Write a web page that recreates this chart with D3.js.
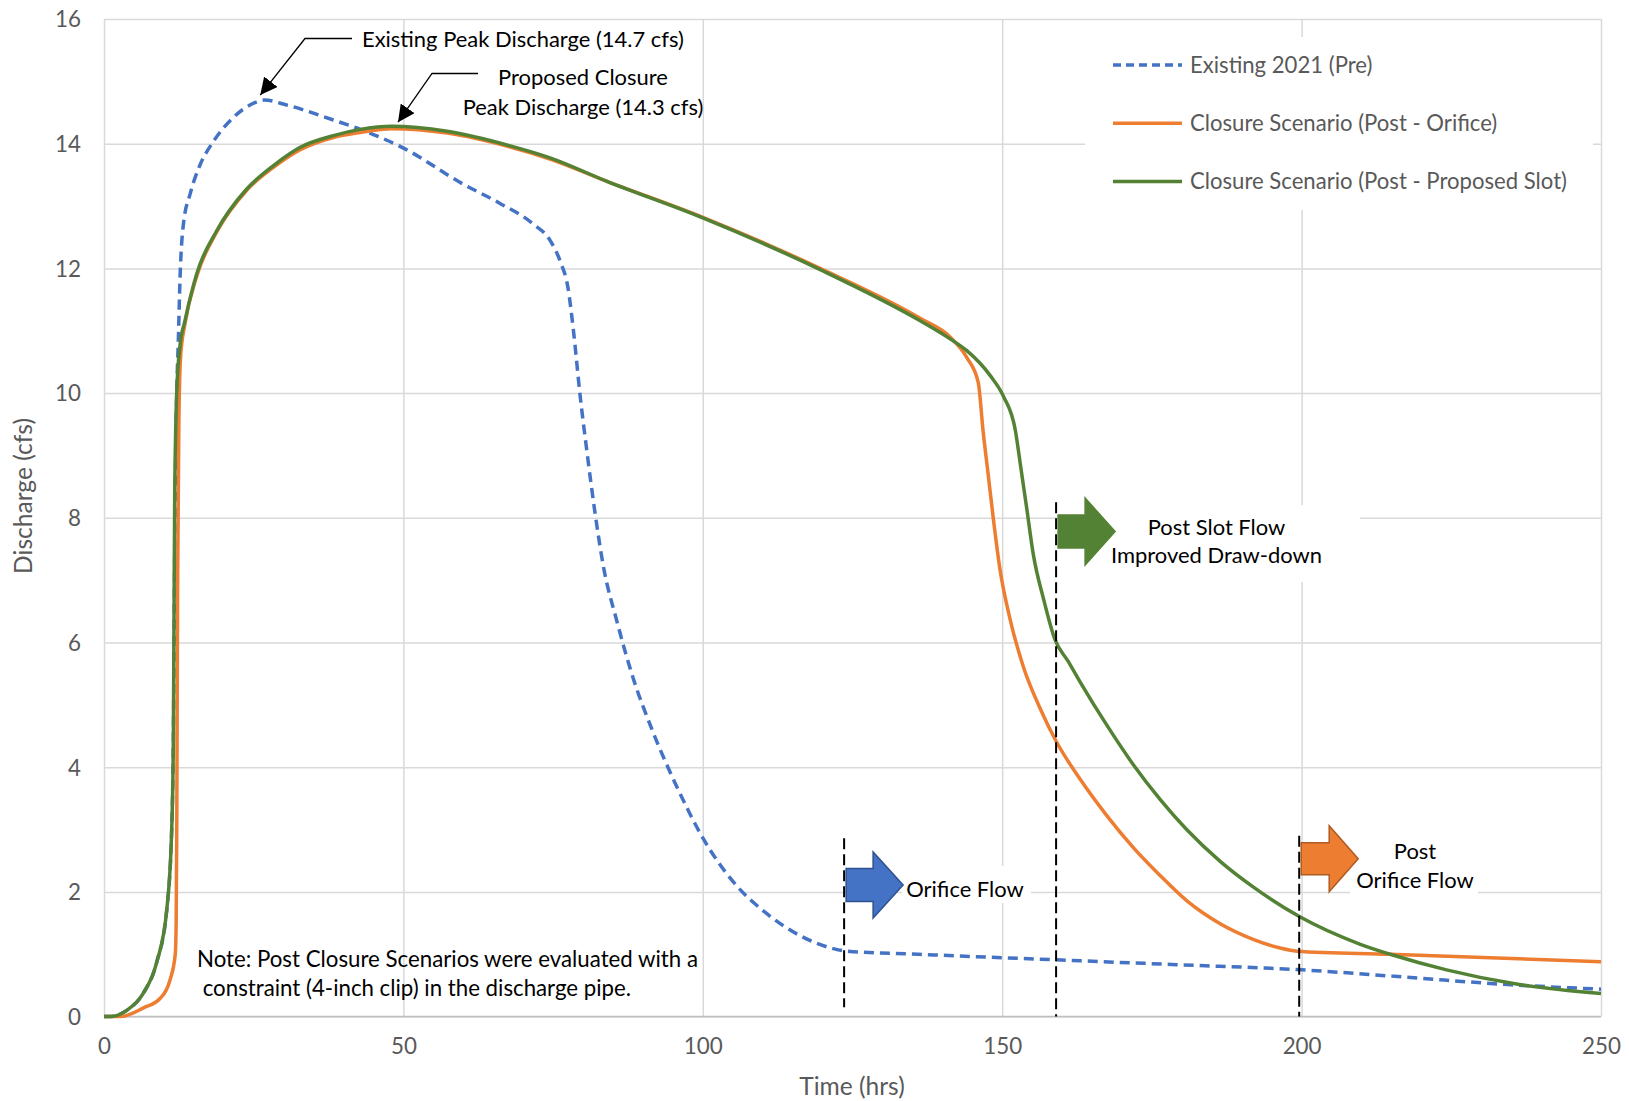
<!DOCTYPE html>
<html><head><meta charset="utf-8">
<script src="https://cdn.jsdelivr.net/npm/d3@7"></script>
<style>body{margin:0;background:#fff} svg{display:block}</style>
</head><body><svg id="c" width="1629" height="1101"></svg>
<script>
// ---------------- DATA ----------------
const seriesNames = ["Existing 2021 (Pre)", "Closure Scenario (Post - Orifice)", "Closure Scenario (Post - Proposed Slot)"];
const seriesColors = ["#4472c4", "#ed7d31", "#548235"];

const existingT = [0, 1, 3.8, 6.6, 8.8, 10.5, 11.3, 11.58, 11.85, 12.2, 12.4, 12.7, 13.25, 14.4, 16, 18.3, 21.6, 25, 26.8, 30.5, 38.3, 42.8, 50, 60, 66, 71.7, 74.5, 76.2, 77.5, 78.4, 79.5, 80.6, 82, 83.4, 85.6, 88.4, 91.7, 95.6, 100.1, 105.1, 110.7, 116.2, 121.8, 124, 136, 159, 180, 200, 215, 235, 250];
const existingQ = [0, 0, 0.1, 0.38, 0.87, 1.73, 2.98, 4.42, 8.0, 10.2, 10.8, 11.85, 12.7, 13.2, 13.65, 14.04, 14.42, 14.65, 14.7, 14.62, 14.38, 14.23, 13.93, 13.35, 13.05, 12.71, 12.45, 12.11, 11.68, 11.0, 9.97, 9.1, 8.08, 7.22, 6.36, 5.42, 4.56, 3.7, 2.85, 2.16, 1.65, 1.3, 1.09, 1.05, 1.0, 0.91, 0.83, 0.75, 0.65, 0.51, 0.44];

const orificeT = [0, 2.8, 6.6, 9.35, 11.0, 11.9, 12.05, 12.15, 12.3, 12.5, 12.8, 13.5, 15.5, 18.8, 23.8, 28.3, 32.7, 38.3, 42.8, 48, 57.3, 67.7, 74.6, 83.9, 100, 119.6, 136.3, 141.3, 144.1, 146, 146.8, 147.7, 148.5, 149.6, 151.3, 153.5, 156.3, 159.1, 163, 167.5, 171.9, 176.4, 180.8, 186.4, 191.9, 196.4, 199.2, 214.8, 250];
const orificeQ = [0, 0, 0.14, 0.29, 0.58, 1.0, 1.5, 3.0, 7.0, 9.5, 10.6, 11.1, 11.88, 12.58, 13.25, 13.62, 13.9, 14.1, 14.18, 14.24, 14.17, 13.95, 13.75, 13.4, 12.82, 12.0, 11.2, 10.9, 10.57, 10.17, 9.4, 8.66, 8.0, 7.19, 6.38, 5.62, 4.95, 4.4, 3.81, 3.22, 2.71, 2.26, 1.86, 1.49, 1.24, 1.1, 1.05, 1.0, 0.88];

const slotT = [0, 1, 3.8, 6.6, 8.8, 10.5, 11.3, 11.58, 11.8, 12.14, 12.7, 13.5, 15.5, 18.8, 23.8, 28.3, 32.7, 38.3, 42.8, 48, 57.3, 67.7, 74.6, 83.9, 100, 119.6, 136.3, 141.3, 144.1, 148, 150.2, 152.2, 153, 154.1, 155.2, 156.9, 158.8, 161, 163, 167.5, 171.9, 176.4, 180.8, 186.4, 191.9, 199.7, 209.8, 214.8, 224.2, 235.4, 250];
const slotQ = [0, 0, 0.1, 0.38, 0.87, 1.73, 2.98, 4.42, 8.27, 10.0, 10.77, 11.15, 11.92, 12.6, 13.27, 13.65, 13.94, 14.13, 14.23, 14.28, 14.2, 13.97, 13.77, 13.4, 12.81, 11.98, 11.16, 10.87, 10.68, 10.28, 9.95, 9.4, 8.88, 8.15, 7.41, 6.7, 6.05, 5.7, 5.37, 4.67, 4.04, 3.48, 3.0, 2.49, 2.08, 1.6, 1.16, 1.0, 0.75, 0.53, 0.37];

const yTickValues = [0, 2, 4, 6, 8, 10, 12, 14, 16];
const xTickValues = [0, 50, 100, 150, 200, 250];

const markerTimes = [123.6, 159, 199.6];
const markerTops = [2.86, 8.25, 2.9];
const markerBottoms = [0.15, 0, 0];

const flowLabels = [["Orifice Flow"], ["Post Slot Flow", "Improved Draw-down"], ["Post", "Orifice Flow"]];
const flowArrowLevels = [2.11, 7.78, 2.53];
const flowArrowColors = ["#4472c4", "#548235", "#ed7d31"];
const flowArrowStrokes = ["#2f528f", "#548235", "#ae5a21"];

const peakLabels = [["Existing Peak Discharge (14.7 cfs)"], ["Proposed Closure", "Peak Discharge (14.3 cfs)"]];
const noteLines = ["Note: Post Closure Scenarios were evaluated with a", " constraint (4-inch clip) in the discharge pipe."];
const xTitle = "Time (hrs)";
const yTitle = "Discharge (cfs)";

// ---------------- LAYOUT ----------------
const FONT = "Lato, 'Open Sans', sans-serif";
const svg = d3.select("#c");
const L = 104, R = 1601, T = 19, B = 1016.6;
const x = d3.scaleLinear().domain([0, 250]).range([L, R]);
const y = d3.scaleLinear().domain([0, 16]).range([B, T]);

// font sizing by measurement
const meas = svg.append("text").attr("font-family", FONT).attr("font-size", 100).attr("visibility", "hidden");
function sizeFor(str, w) { meas.text(str); return 100 * w / meas.node().getComputedTextLength(); }
const titleSize = sizeFor(yTitle, 156);
const legendSize = sizeFor(seriesNames[2], 377);
const annSize = sizeFor(peakLabels[0][0], 322);
const noteSize = sizeFor(noteLines[0], 501);
meas.remove();

// gridlines + axes
const gy = svg.append("g").attr("transform", `translate(${L},0)`)
  .call(d3.axisLeft(y).tickValues(yTickValues).tickSize(-(R - L)).tickPadding(23).tickFormat(d3.format("d")));
gy.select(".domain").remove();
gy.selectAll("line").attr("stroke", "#d9d9d9").attr("stroke-width", 1.5);
gy.selectAll("text").attr("font-family", FONT).attr("font-size", annSize * 1.02).attr("fill", "#595959").attr("dy", "0.35em");

const gx = svg.append("g").attr("transform", `translate(0,${B})`)
  .call(d3.axisBottom(x).tickValues(xTickValues).tickSize(-(B - T)).tickFormat(d3.format("d")));
gx.select(".domain").remove();
gx.selectAll("line").attr("stroke", "#d9d9d9").attr("stroke-width", 1.5);
gx.selectAll("text").attr("font-family", FONT).attr("font-size", annSize * 1.02).attr("fill", "#595959").attr("y", 30).attr("dy", "0.35em");

// white boxes (legend + text boxes)
svg.append("rect").attr("x", 1085).attr("y", 37).attr("width", 508).attr("height", 173).attr("fill", "#fff");
svg.append("rect").attr("x", 902).attr("y", 866).attr("width", 129).attr("height", 37).attr("fill", "#fff");
svg.append("rect").attr("x", 1062).attr("y", 505).attr("width", 298).attr("height", 77).attr("fill", "#fff");
svg.append("rect").attr("x", 1350).attr("y", 833).attr("width", 128).attr("height", 66).attr("fill", "#fff");

// bottom axis line
svg.append("line").attr("x1", L).attr("x2", R).attr("y1", B).attr("y2", B).attr("stroke", "#bfbfbf").attr("stroke-width", 1.5);

// axis titles
svg.append("text").attr("x", 852).attr("y", 1086).attr("dy", "0.35em").attr("text-anchor", "middle")
  .attr("font-family", FONT).attr("font-size", titleSize).attr("fill", "#595959").text(xTitle);
svg.append("text").attr("transform", "translate(23,496) rotate(-90)").attr("dy", "0.35em").attr("text-anchor", "middle")
  .attr("font-family", FONT).attr("font-size", titleSize).attr("fill", "#595959").text(yTitle);

// series
const series = [
  { t: existingT, q: existingQ, dash: "10,6" },
  { t: orificeT, q: orificeQ, dash: null },
  { t: slotT, q: slotQ, dash: null }
];
const line = d3.line().x(d => x(d[0])).y(d => y(d[1])).curve(d3.curveMonotoneX);
series.forEach((s, i) => {
  svg.append("path").datum(s.t.map((t, k) => [t, s.q[k]]))
    .attr("d", line).attr("fill", "none").attr("stroke", seriesColors[i]).attr("stroke-width", 3.5)
    .attr("stroke-linejoin", "round").attr("stroke-dasharray", s.dash);
});

// legend
seriesNames.forEach((n, i) => {
  const ly = 65 + i * 58.3;
  svg.append("line").attr("x1", 1113).attr("x2", 1182).attr("y1", ly).attr("y2", ly)
    .attr("stroke", seriesColors[i]).attr("stroke-width", 3.5).attr("stroke-dasharray", i === 0 ? "8,5" : null);
  svg.append("text").attr("x", 1190).attr("y", ly).attr("dy", "0.35em").attr("font-family", FONT)
    .attr("font-size", legendSize).attr("fill", "#595959").text(n);
});

// marker dashed lines
markerTimes.forEach((t, i) => {
  svg.append("line").attr("x1", x(t)).attr("x2", x(t)).attr("y1", y(markerTops[i])).attr("y2", y(markerBottoms[i]))
    .attr("stroke", "#000").attr("stroke-width", 2).attr("stroke-dasharray", "11,5");
});

// block arrows
const shaft = [27, 27, 28], head = [30, 30, 29], sh = [16.5, 16.5, 16], hh = [33, 33.5, 33];
markerTimes.forEach((t, i) => {
  const x0 = x(t) + 2, cy = y(flowArrowLevels[i]);
  const pts = [[x0, cy - sh[i]], [x0 + shaft[i], cy - sh[i]], [x0 + shaft[i], cy - hh[i]], [x0 + shaft[i] + head[i], cy],
               [x0 + shaft[i], cy + hh[i]], [x0 + shaft[i], cy + sh[i]], [x0, cy + sh[i]]];
  svg.append("polygon").attr("points", pts.map(p => p.join(",")).join(" "))
    .attr("fill", flowArrowColors[i]).attr("stroke", flowArrowStrokes[i]).attr("stroke-width", 1.5).attr("stroke-linejoin", "miter");
});

// flow labels
const flowPos = [[965, [889]], [1216.5, [527, 555.5]], [1415, [851, 880]]];
flowLabels.forEach((lines, i) => {
  lines.forEach((s, k) => {
    svg.append("text").attr("x", flowPos[i][0]).attr("y", flowPos[i][1][k]).attr("dy", "0.35em")
      .attr("text-anchor", "middle").attr("font-family", FONT).attr("font-size", annSize).attr("fill", "#000").text(s);
  });
});

// peak annotations
svg.append("defs").append("marker").attr("id", "ah").attr("viewBox", "0 0 10 10").attr("refX", 10).attr("refY", 5)
  .attr("markerWidth", 17).attr("markerHeight", 17).attr("markerUnits", "userSpaceOnUse").attr("orient", "auto")
  .append("path").attr("d", "M0,0 L10,5 L0,10 z").attr("fill", "#000");

svg.append("path").attr("d", `M352,38.5 L305,38.5 L${x(26.6) - 3},${y(14.7) - 5}`).attr("fill", "none")
  .attr("stroke", "#000").attr("stroke-width", 1.3).attr("marker-end", "url(#ah)");
svg.append("text").attr("x", 362).attr("y", 39).attr("dy", "0.35em").attr("font-family", FONT)
  .attr("font-size", annSize).attr("fill", "#000").text(peakLabels[0][0]);

svg.append("path").attr("d", `M478,73.5 L432,73.5 L${x(49.1)},${y(14.28) - 4}`).attr("fill", "none")
  .attr("stroke", "#000").attr("stroke-width", 1.3).attr("marker-end", "url(#ah)");
peakLabels[1].forEach((s, k) => {
  svg.append("text").attr("x", 583).attr("y", [77, 107.5][k]).attr("dy", "0.35em").attr("text-anchor", "middle")
    .attr("font-family", FONT).attr("font-size", annSize).attr("fill", "#000").text(s);
});

// note
noteLines.forEach((s, k) => {
  svg.append("text").attr("x", 197).attr("y", [959, 988][k]).attr("dy", "0.35em").style("white-space", "pre")
    .attr("font-family", FONT).attr("font-size", noteSize).attr("fill", "#000").text(s);
});
</script></body></html>
